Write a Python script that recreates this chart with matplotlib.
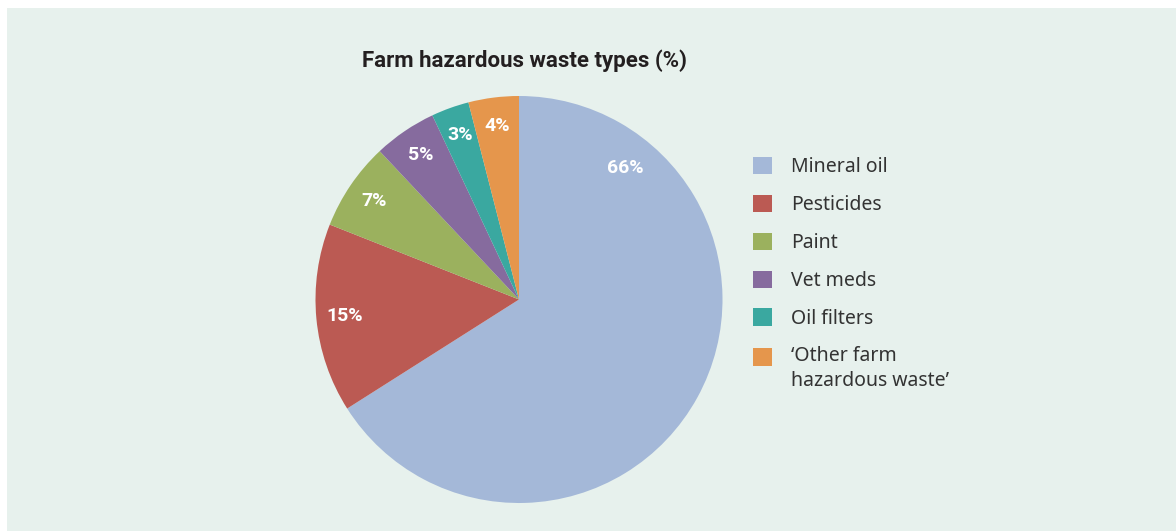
import matplotlib
matplotlib.use("Agg")
import matplotlib.pyplot as plt
import numpy as np
from matplotlib.patches import Rectangle

categories = ["Mineral oil", "Pesticides", "Paint", "Vet meds", "Oil filters",
              "\u2018Other farm\nhazardous waste\u2019"]
values = [66, 15, 7, 5, 3, 4]
colors = ["#a4b8d8", "#bb5a53", "#9bb15e", "#866b9e", "#3aa8a0", "#e5964c"]
title = "Farm hazardous waste types (%)"

plt.rcParams['font.family'] = ['Noto Sans', 'DejaVu Sans']
bold_family = ['Roboto', 'DejaVu Sans']

W, H = 1176, 531
fig = plt.figure(figsize=(W / 100, H / 100), dpi=100)
fig.patch.set_facecolor("white")
fig.patches.append(Rectangle((7 / W, 0), 1 - 7 / W, 1 - 8 / H, transform=fig.transFigure,
                             facecolor="#e7f1ed", edgecolor="none", zorder=-10))

cx, cy, r = 519, 299.5, 203.5
ax = fig.add_axes([(cx - r) / W, (H - cy - r) / H, 2 * r / W, 2 * r / H])
ax.set_facecolor("none")
wedges, texts, autotexts = ax.pie(values, colors=colors, startangle=90, counterclock=False,
                                  autopct="%d%%", pctdistance=0.86,
                                  wedgeprops=dict(linewidth=0),
                                  textprops=dict(color="white", fontsize=14, fontweight="bold",
                                                 family=bold_family))
ax.set_xlim(-1, 1)
ax.set_ylim(-1, 1)
ax.set_aspect("equal")
ax.axis("off")
# the largest slice's label sits in its upper part
ang = np.deg2rad(51)
autotexts[0].set_position((0.83 * np.cos(ang), 0.83 * np.sin(ang)))

fig.text(525 / W, 1 - 61 / H, title, ha="center", va="center", fontsize=16,
         fontweight="bold", color="#231f20", family=bold_family)

leg = fig.legend(wedges, categories, loc="upper left", bbox_to_anchor=(753 / W, 1 - 157 / H),
                 frameon=False, fontsize=14, handlelength=1.0, handleheight=1.0,
                 handletextpad=0.95, labelspacing=0.9, borderaxespad=0, borderpad=0)
for t in leg.get_texts():
    t.set_color("#333333")
    t.set_linespacing(1.3)
last = leg.legend_handles[-1]
last.set_y(last.get_y() + 9)

fig.savefig("out.png", dpi=100, facecolor=fig.get_facecolor())
